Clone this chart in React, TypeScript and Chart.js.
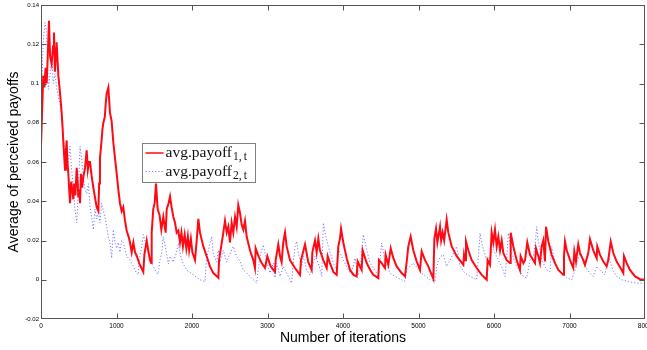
import React, { useEffect, useRef } from "react";
import { Chart, registerables } from "chart.js";

Chart.register(...registerables);

// ---------- data ----------
const X_TICKS = [0, 1000, 2000, 3000, 4000, 5000, 6000, 7000, 8000];
const Y_TICKS = [-0.02, 0, 0.02, 0.04, 0.06, 0.08, 0.1, 0.12, 0.14];
const Y_TICK_LABELS = ["-0.02", "0", "0.02", "0.04", "0.06", "0.08", "0.1", "0.12", "0.14"];
const SERIES_NAMES = ["avg.payoff", "avg.payoff"];
const SERIES_SUBSCRIPTS = ["1,\u2009t", "2,\u2009t"];
const X_TITLE = "Number of iterations";
const Y_TITLE = "Average of perceived payoffs";

// [iteration, payoff]
const payoff1: [number, number][] = [
  [0,0.068],[15,0.086],[30,0.104],[45,0.098],[60,0.108],[75,0.100],[90,0.114],[106,0.132],[120,0.114],[141,0.110],
  [160,0.119],[172,0.126],[185,0.106],[200,0.118],[207,0.121],[220,0.111],[230,0.104],[250,0.096],[274,0.085],[285,0.078],
  [296,0.070],[310,0.061],[318,0.056],[330,0.066],[340,0.071],[350,0.060],[362,0.054],[375,0.045],[384,0.039],[400,0.050],
  [415,0.046],[428,0.041],[440,0.049],[455,0.043],[473,0.057],[485,0.050],[494,0.042],[505,0.046],[517,0.039],[530,0.054],
  [545,0.047],[560,0.052],[583,0.057],[605,0.066],[620,0.056],[635,0.060],[649,0.060],[670,0.053],[693,0.047],[715,0.042],
  [737,0.037],[760,0.035],[770,0.049],[781,0.062],[800,0.070],[815,0.077],[826,0.080],[845,0.083],[858,0.090],[870,0.095],
  [892,0.098],[905,0.090],[914,0.085],[935,0.081],[958,0.070],[980,0.062],[1003,0.054],[1024,0.046],[1046,0.039],[1068,0.035],
  [1090,0.037],[1113,0.030],[1135,0.025],[1160,0.022],[1179,0.019],[1201,0.014],[1223,0.019],[1245,0.014],[1270,0.012],[1300,0.0085],
  [1330,0.006],[1355,0.004],[1370,0.013],[1400,0.020],[1420,0.015],[1444,0.010],[1460,0.0085],[1466,0.024],[1487,0.036],[1505,0.039],
  [1523,0.049],[1545,0.036],[1570,0.033],[1594,0.0255],[1620,0.032],[1651,0.024],[1665,0.036],[1690,0.039],[1709,0.0425],[1730,0.037],
  [1753,0.032],[1775,0.029],[1797,0.024],[1819,0.025],[1841,0.019],[1860,0.024],[1880,0.017],[1903,0.023],[1925,0.016],[1945,0.022],
  [1962,0.015],[1985,0.021],[2005,0.014],[2040,0.010],[2062,0.020],[2084,0.031],[2106,0.024],[2150,0.017],[2194,0.012],[2238,0.0068],
  [2282,0.0034],[2349,0.001],[2358,0.010],[2415,0.024],[2437,0.030],[2460,0.024],[2481,0.027],[2503,0.019],[2525,0.029],[2547,0.024],
  [2570,0.032],[2592,0.027],[2613,0.038],[2636,0.034],[2658,0.028],[2680,0.0255],[2702,0.030],[2724,0.022],[2768,0.015],[2812,0.010],
  [2834,0.006],[2843,0.016],[2880,0.012],[2923,0.0085],[2967,0.006],[2998,0.012],[3040,0.007],[3077,0.005],[3099,0.004],[3108,0.010],
  [3143,0.018],[3166,0.012],[3187,0.009],[3209,0.019],[3232,0.024],[3254,0.017],[3298,0.010],[3364,0.006],[3430,0.0025],[3444,0.010],
  [3497,0.018],[3540,0.009],[3585,0.005],[3594,0.014],[3629,0.020],[3651,0.014],[3673,0.021],[3695,0.015],[3739,0.010],[3784,0.006],
  [3797,0.012],[3828,0.0085],[3872,0.004],[3916,0.0025],[3938,0.017],[3960,0.021],[3974,0.026],[4004,0.019],[4049,0.011],[4093,0.005],
  [4140,0.0025],[4181,0.0017],[4194,0.0093],[4225,0.0068],[4247,0.005],[4260,0.015],[4314,0.0085],[4360,0.005],[4401,0.0025],[4468,0.0008],
  [4477,0.010],[4512,0.0085],[4556,0.006],[4565,0.0127],[4600,0.0076],[4632,0.016],[4667,0.011],[4711,0.0068],[4777,0.0034],[4821,0.0017],
  [4844,0.0093],[4865,0.017],[4896,0.022],[4931,0.015],[4976,0.0093],[5020,0.005],[5042,0.0144],[5086,0.010],[5130,0.0068],[5175,0.0025],
  [5197,0.0005],[5210,0.021],[5232,0.026],[5250,0.019],[5285,0.027],[5300,0.020],[5320,0.024],[5340,0.020],[5373,0.0306],[5395,0.024],
  [5440,0.017],[5506,0.012],[5594,0.0076],[5603,0.0127],[5616,0.010],[5629,0.0195],[5660,0.015],[5704,0.010],[5771,0.006],[5837,0.0025],
  [5903,0.0],[5916,0.010],[5947,0.0076],[5969,0.024],[5991,0.019],[6013,0.0255],[6035,0.017],[6057,0.022],[6080,0.015],[6102,0.020],
  [6124,0.0136],[6168,0.010],[6212,0.0085],[6221,0.024],[6256,0.017],[6300,0.010],[6344,0.005],[6353,0.012],[6389,0.0085],[6411,0.010],
  [6441,0.019],[6477,0.0127],[6543,0.0085],[6556,0.016],[6587,0.012],[6609,0.0085],[6631,0.017],[6653,0.020],[6675,0.0093],[6689,0.027],
  [6720,0.0195],[6764,0.0127],[6808,0.0085],[6852,0.005],[6918,0.0025],[6927,0.012],[6940,0.0195],[6963,0.015],[7007,0.010],[7050,0.006],
  [7064,0.0144],[7086,0.0093],[7116,0.018],[7139,0.0136],[7183,0.010],[7205,0.0076],[7249,0.0136],[7271,0.0207],[7315,0.015],[7360,0.011],
  [7368,0.017],[7404,0.0127],[7448,0.0093],[7492,0.0068],[7514,0.010],[7546,0.0195],[7580,0.0136],[7625,0.0093],[7691,0.005],[7713,0.0034],
  [7722,0.012],[7757,0.0085],[7801,0.005],[7868,0.0017],[7934,0.0003],[8000,0.0],
];

const payoff2: [number, number][] = [
  [0,0.085],[9,0.0985],[30,0.121],[53,0.131],[75,0.127],[84,0.112],[97,0.097],[119,0.104],[141,0.114],[163,0.100],
  [185,0.105],[207,0.098],[230,0.093],[252,0.090],[274,0.083],[296,0.073],[318,0.064],[340,0.056],[362,0.060],[384,0.068],
  [406,0.056],[428,0.047],[450,0.036],[473,0.029],[495,0.045],[517,0.068],[539,0.062],[560,0.052],[583,0.046],[605,0.044],
  [627,0.049],[649,0.037],[671,0.032],[693,0.0255],[715,0.036],[737,0.031],[760,0.034],[781,0.029],[804,0.039],[826,0.035],
  [848,0.032],[870,0.027],[892,0.022],[914,0.019],[936,0.011],[958,0.0255],[980,0.019],[1002,0.016],[1024,0.019],[1046,0.014],
  [1068,0.020],[1090,0.019],[1135,0.012],[1180,0.010],[1220,0.007],[1267,0.0034],[1289,0.0025],[1300,0.010],[1340,0.018],[1355,0.023],
  [1400,0.017],[1444,0.010],[1488,0.0068],[1532,0.0034],[1554,0.003],[1575,0.010],[1598,0.0136],[1620,0.022],[1642,0.018],[1687,0.008],
  [1710,0.012],[1750,0.009],[1797,0.014],[1819,0.0187],[1850,0.012],[1885,0.008],[1929,0.005],[2018,0.0025],[2106,0.0],[2172,-0.001],
  [2190,0.010],[2238,0.0187],[2261,0.022],[2282,0.013],[2327,0.009],[2350,0.015],[2371,0.009],[2415,0.015],[2437,0.012],[2459,0.009],
  [2500,0.013],[2547,0.017],[2590,0.012],[2636,0.0095],[2680,0.005],[2724,0.0034],[2812,0.0],[2857,-0.0017],[2880,0.006],[2901,0.012],
  [2945,0.0178],[2990,0.009],[3033,0.0034],[3077,0.0085],[3099,0.001],[3121,0.0085],[3166,0.0017],[3209,0.0068],[3254,0.0034],[3298,0.0],
  [3320,-0.0017],[3340,0.008],[3364,0.017],[3387,0.0195],[3408,0.0136],[3453,0.0068],[3474,0.012],[3519,0.005],[3563,0.0025],[3607,0.0085],
  [3629,0.012],[3673,0.0085],[3718,0.0017],[3740,0.029],[3762,0.024],[3805,0.017],[3872,0.0085],[3916,0.005],[3938,0.0153],[3970,0.013],
  [4004,0.010],[4093,0.0034],[4130,0.006],[4159,0.011],[4203,0.0025],[4240,0.010],[4269,0.023],[4314,0.0153],[4358,0.0085],[4446,0.0034],
  [4468,0.0017],[4490,0.010],[4512,0.0187],[4556,0.010],[4623,0.0034],[4689,0.0017],[4777,0.0],[4821,-0.0008],[4844,0.005],[4887,0.0068],
  [4931,0.0085],[5042,0.0034],[5152,0.0],[5219,-0.0008],[5240,0.006],[5263,0.010],[5300,0.012],[5329,0.0127],[5373,0.0068],[5420,0.010],
  [5506,0.017],[5550,0.0068],[5616,0.0034],[5682,0.0017],[5771,0.0],[5790,0.010],[5815,0.0238],[5837,0.0187],[5903,0.010],[5947,0.0119],
  [5991,0.0153],[6057,0.010],[6102,0.0068],[6146,0.0017],[6170,0.012],[6190,0.0238],[6234,0.0136],[6300,0.0068],[6389,0.0017],[6433,0.0009],
  [6477,0.010],[6521,0.0119],[6545,0.018],[6565,0.027],[6587,0.020],[6631,0.010],[6675,0.0068],[6700,0.005],[6742,0.0042],[6764,0.017],
  [6808,0.0093],[6852,0.005],[6963,0.0009],[7030,0.0],[7073,0.005],[7110,0.010],[7139,0.0136],[7205,0.0068],[7271,0.0034],[7315,0.0017],
  [7360,0.0068],[7404,0.005],[7470,0.0025],[7514,0.012],[7580,0.0042],[7625,0.0017],[7691,0.0],[7780,-0.001],[7890,-0.0017],[8000,-0.0017],
];

// ---------- styles ----------
const RED = "rgb(255,10,20)";
const BLUE = "rgba(100,100,255,0.85)";
const FRAME = "#555555";
const SANS = "'Liberation Sans', Arial, sans-serif";
const SERIF = "'Liberation Serif', 'DejaVu Serif', serif";

const framePlugin = {
  id: "matlabFrame",
  afterDatasetsDraw(chart: any) {
    const { ctx, chartArea, scales } = chart;
    const l = Math.round(chartArea.left) + 0.5;
    const r = Math.round(chartArea.right) - 0.5;
    const t = Math.round(chartArea.top) + 0.5;
    const b = Math.round(chartArea.bottom) - 0.5;
    ctx.save();
    ctx.strokeStyle = FRAME;
    ctx.lineWidth = 1;
    ctx.setLineDash([]);
    ctx.strokeRect(l, t, r - l, b - t);
    const len = 5;
    ctx.beginPath();
    for (const v of X_TICKS) {
      const px = Math.round(scales.x.getPixelForValue(v)) + 0.5;
      if (px <= l + 1 || px >= r - 1) continue;
      ctx.moveTo(px, b); ctx.lineTo(px, b - len);
      ctx.moveTo(px, t); ctx.lineTo(px, t + len);
    }
    for (const v of Y_TICKS) {
      const py = Math.round(scales.y.getPixelForValue(v)) + 0.5;
      if (py <= t + 1 || py >= b - 1) continue;
      ctx.moveTo(l, py); ctx.lineTo(l + len, py);
      ctx.moveTo(r, py); ctx.lineTo(r - len, py);
    }
    ctx.stroke();
    ctx.restore();
  },
};

const legendPlugin = {
  id: "matlabLegend",
  afterDraw(chart: any) {
    const { ctx } = chart;
    const x0 = 142.5, y0 = 143.5, w = 113, h = 39;
    const rows = [153, 171.5];
    ctx.save();
    ctx.fillStyle = "#ffffff";
    ctx.fillRect(x0, y0, w, h);
    ctx.beginPath();
    ctx.rect(x0, y0, w, h);
    ctx.clip();
    chart.data.datasets.forEach((ds: any, i: number) => {
      const y = rows[i];
      ctx.save();
      ctx.strokeStyle = ds.borderColor;
      ctx.lineWidth = Math.min(ds.borderWidth, 1.5);
      ctx.setLineDash(ds.borderDash || []);
      ctx.beginPath();
      ctx.moveTo(x0 + 3, y);
      ctx.lineTo(x0 + 21, y);
      ctx.stroke();
      ctx.restore();
      ctx.fillStyle = "#111";
      ctx.textBaseline = "alphabetic";
      ctx.textAlign = "left";
      ctx.font = `15.5px ${SERIF}`;
      const tx = x0 + 23;
      ctx.fillText(SERIES_NAMES[i], tx, y + 4);
      const tw = ctx.measureText(SERIES_NAMES[i]).width;
      ctx.font = `11.5px ${SERIF}`;
      ctx.fillText(SERIES_SUBSCRIPTS[i], tx + tw + 1, y + 7);
    });
    ctx.restore();
    ctx.save();
    ctx.strokeStyle = "#808080";
    ctx.lineWidth = 1;
    ctx.strokeRect(x0, y0, w, h);
    ctx.restore();
  },
};

export default function App() {
  const ref = useRef<HTMLCanvasElement | null>(null);

  useEffect(() => {
    document.body.style.margin = "0";
    const canvas = ref.current;
    if (!canvas) return;
    const chart = new Chart(canvas, {
      type: "line",
      data: {
        datasets: [
          {
            label: SERIES_NAMES[0] + SERIES_SUBSCRIPTS[0],
            data: payoff1.map(([x, y]) => ({ x, y })),
            borderColor: RED,
            borderWidth: 2,
            pointRadius: 0,
            tension: 0,
            fill: false,
          },
          {
            label: SERIES_NAMES[1] + SERIES_SUBSCRIPTS[1],
            data: payoff2.map(([x, y]) => ({ x, y })),
            borderColor: BLUE,
            borderWidth: 1,
            borderDash: [1.2, 2],
            pointRadius: 0,
            tension: 0,
            fill: false,
          },
        ],
      },
      options: {
        animation: false,
        responsive: false,
        maintainAspectRatio: false,
        events: [],
        layout: { padding: { top: 5, right: 2, left: 0, bottom: 0 } },
        plugins: { legend: { display: false }, tooltip: { enabled: false } },
        scales: {
          x: {
            type: "linear",
            min: 0,
            max: 8000,
            afterBuildTicks: (s: any) => { s.ticks = X_TICKS.map((v) => ({ value: v })); },
            grid: { display: false, drawTicks: false },
            border: { display: false },
            ticks: {
              autoSkip: false,
              maxRotation: 0,
              padding: 3,
              color: "#000",
              font: { family: SANS, size: 6.5 },
              callback: (v: any) => String(v),
            },
            title: {
              display: true,
              text: X_TITLE,
              color: "#000",
              font: { family: SANS, size: 14 },
              padding: { top: 0, bottom: 3 },
            },
            afterFit: (s: any) => { s.height = 31; s.paddingLeft = 0; s.paddingRight = 0; },
          },
          y: {
            type: "linear",
            min: -0.02,
            max: 0.14,
            afterBuildTicks: (s: any) => { s.ticks = Y_TICKS.map((v) => ({ value: v })); },
            grid: { display: false, drawTicks: false },
            border: { display: false },
            ticks: {
              autoSkip: false,
              padding: 2,
              color: "#000",
              font: { family: SANS, size: 6 },
              callback: (v: any) => {
                const i = Y_TICKS.findIndex((t) => Math.abs(t - v) < 1e-9);
                return i >= 0 ? Y_TICK_LABELS[i] : "";
              },
            },
            title: {
              display: true,
              text: Y_TITLE,
              color: "#000",
              font: { family: SANS, size: 14 },
              padding: { top: 6, bottom: 0 },
            },
            afterFit: (s: any) => { s.width = 41; s.paddingTop = 0; s.paddingBottom = 0; },
          },
        },
      },
      plugins: [framePlugin, legendPlugin],
    } as any);
    return () => chart.destroy();
  }, []);

  return (
    <div style={{ width: 647, height: 350, background: "#fff" }}>
      <canvas ref={ref} width={647} height={350} style={{ display: "block" }} />
    </div>
  );
}
